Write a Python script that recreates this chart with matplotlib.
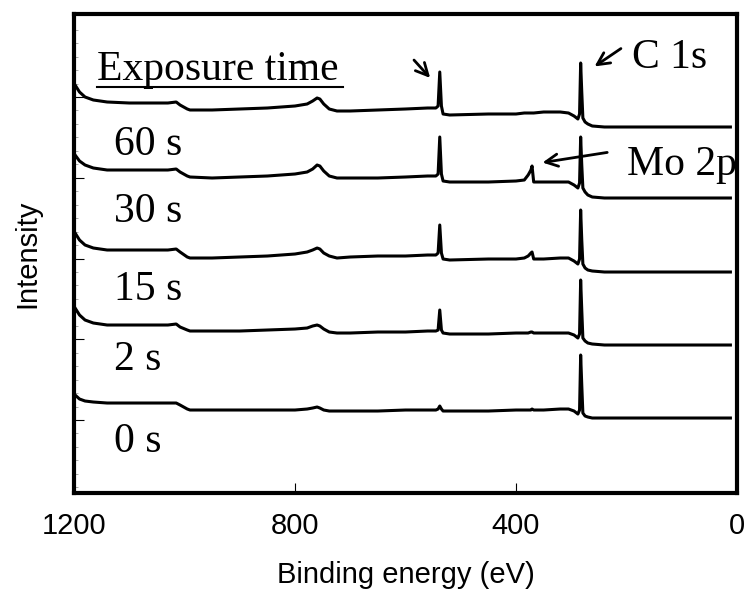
import numpy as np
import matplotlib
matplotlib.use("Agg")
import matplotlib.pyplot as plt

# binding energy grid (eV), shared by all spectra
energy = [1198, 1190, 1180, 1165, 1140, 1100, 1030, 1015, 1008, 995, 990,
          950, 900, 850, 800, 778, 768, 760, 755, 748, 738, 724, 700, 650,
          600, 560, 545, 541, 538, 535, 532, 520, 450, 400, 385, 378, 373,
          371, 368, 350, 320, 305, 295, 288, 285, 283, 281, 279, 275, 270,
          262, 240, 150, 50, 12]

# stacked intensities (arb. units) for each exposure time
int_60s = [408, 401, 396, 393, 391, 390, 390, 391, 388, 384, 383,
           383, 384, 385, 387, 389, 392, 395, 394, 389, 384, 382, 382, 383,
           384, 385, 385, 387, 421, 387, 379, 378, 379, 379, 380, 380, 380,
           380, 380, 381, 381, 380, 377, 374, 379, 430, 401, 375, 371, 369,
           367, 366, 366, 366, 366]
int_30s = [338, 332, 328, 325, 323, 323, 323, 324, 321, 317, 316,
           315, 316, 317, 319, 321, 324, 328, 327, 322, 317, 315, 315, 315,
           316, 317, 317, 319, 356, 319, 312, 311, 311, 312, 313, 318, 323,
           327, 311, 311, 311, 311, 308, 305, 310, 356, 328, 305, 301, 298,
           296, 295, 295, 295, 295]
int_15s = [260, 253, 248, 245, 243, 243, 243, 244, 241, 236, 235,
           235, 236, 237, 239, 241, 243, 245, 244, 240, 237, 235, 236, 237,
           237, 238, 238, 240, 268, 240, 234, 233, 234, 234, 235, 237, 240,
           241, 234, 234, 235, 235, 232, 229, 234, 283, 253, 229, 225, 223,
           222, 221, 221, 221, 221]
int_2s = [185, 178, 173, 170, 168, 168, 168, 169, 166, 163, 162,
          162, 162, 163, 164, 165, 167, 168, 167, 164, 161, 160, 160, 161,
          161, 162, 162, 163, 183, 163, 160, 159, 159, 160, 160, 160, 161,
          161, 160, 160, 160, 160, 158, 155, 159, 213, 183, 155, 152, 150,
          149, 148, 148, 148, 148]
int_0s = [98, 94, 92, 91, 90, 90, 90, 90, 88, 84, 83,
          83, 83, 83, 83, 84, 85, 86, 85, 83, 82, 82, 82, 82,
          83, 83, 83, 84, 87, 84, 82, 82, 82, 83, 83, 83, 83,
          84, 83, 83, 84, 84, 82, 79, 83, 138, 108, 80, 77, 76,
          75, 75, 75, 75, 75]

spectra = [int_60s, int_30s, int_15s, int_2s, int_0s]
labels = ['60 s', '30 s', '15 s', '2 s', '0 s']
label_y = [338, 271, 193, 123, 41]

serif = ['Liberation Serif', 'DejaVu Serif']
sans = ['Liberation Sans', 'DejaVu Sans']

fig = plt.figure(figsize=(7.45, 5.93), dpi=100)
ax = fig.add_axes([0.0993, 0.1686, 0.890, 0.8078])

for vals in spectra:
    ax.plot(energy, vals, color='black', lw=2.2, solid_joinstyle='round')

ax.set_xlim(1200, 0)
ax.set_ylim(0, 479)

ax.set_xticks([1200, 800, 400, 0])
ax.set_xticklabels(['1200', '800', '400', '0'], family=sans, fontsize=21)
major_y = 73 + 80.75 * np.arange(5)
minor_y = 73 + 80.75 / 6 * np.arange(-5, 30)
ax.set_yticks(major_y)
ax.set_yticks(minor_y[minor_y < 479], minor=True)
ax.tick_params(axis='both', which='major', direction='in', length=7,
               width=0.8, labelleft=False)
ax.tick_params(axis='x', which='major', pad=14)
ax.tick_params(axis='y', which='minor', direction='in', length=3,
               width=0.5, color='#888888')
for sp in ax.spines.values():
    sp.set_linewidth(3)
    sp.set_zorder(5)

ax.set_xlabel('Binding energy (eV)', family=sans, fontsize=21, labelpad=15)
ax.set_ylabel('Intensity', family=sans, fontsize=21, labelpad=20)

# annotations
ax.text(1158, 413, 'Exposure time', family=serif, fontsize=30, va='baseline')
ax.plot([1158, 713], [406, 406], color='black', lw=1.5)
for lab, y in zip(labels, label_y):
    ax.text(1127, y, lab, family=serif, fontsize=30, va='baseline')

ax.text(190, 425, 'C 1s', family=serif, fontsize=30, va='baseline')
ax.text(199, 318, 'Mo 2p', family=serif, fontsize=30, va='baseline', zorder=1)

arrow = dict(arrowstyle='->', lw=2, color='black', mutation_scale=22)
ax.annotate('', xy=(552, 413), xytext=(588, 435), arrowprops=arrow)
ax.annotate('', xy=(262, 425), xytext=(206, 446), arrowprops=arrow)
ax.annotate('', xy=(357, 330), xytext=(230, 341), arrowprops=arrow)

plt.savefig('out.png', dpi=100)
